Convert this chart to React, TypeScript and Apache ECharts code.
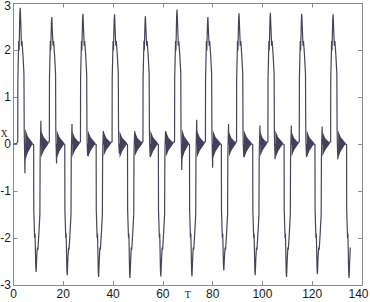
import React, { useEffect, useRef } from "react";
import * as echarts from "echarts";

// x-axis ticks / y-axis ticks
const xTicks = [0, 20, 40, 60, 80, 100, 120, 140];
const yTicks = [-3, -2, -1, 0, 1, 2, 3];

// main trace: [T, x]
const signal: number[][] = [
  [0, 0], [1.2, 0.02],
  [1.7, 0.05], [1.75, 1.4], [2.1, 2.2], [2.25, 2.0], [2.55, 2.81], [2.7, 2.91], [2.95, 2.56], [3.2, 2.1], [3.4, 2.2], [3.8, 1.9], [4.2, 1.5], [4.3, 0.3], [4.4, 0], [4.6, -0.62], [4.7, 0],
  [8.1, 0], [8.15, -1.4], [8.5, -2.0], [8.65, -1.9], [8.95, -2.62], [9.1, -2.72], [9.35, -2.37], [9.6, -2.2], [9.8, -2.25], [10.2, -1.9], [10.6, -1.5], [10.7, -0.3], [10.8, 0], [11.0, 0.5], [11.1, 0],
  [14.4, 0.05], [14.45, 1.4], [14.8, 2.2], [14.95, 2.0], [15.25, 2.61], [15.4, 2.71], [15.65, 2.36], [15.9, 2.1], [16.1, 2.2], [16.5, 1.9], [16.9, 1.5], [17.0, 0.3], [17.1, 0], [17.3, -0.41], [17.4, 0],
  [20.6, 0], [20.65, -1.4], [21.0, -2.0], [21.15, -1.9], [21.45, -2.69], [21.6, -2.79], [21.85, -2.44], [22.1, -2.2], [22.3, -2.25], [22.7, -1.9], [23.1, -1.5], [23.2, -0.3], [23.3, 0], [23.5, 0.43], [23.6, 0],
  [26.9, 0.05], [26.95, 1.4], [27.3, 2.2], [27.45, 2.0], [27.75, 2.68], [27.9, 2.78], [28.15, 2.43], [28.4, 2.1], [28.6, 2.2], [29.0, 1.9], [29.4, 1.5], [29.5, 0.3], [29.6, 0], [29.8, -0.25], [29.9, 0],
  [33.2, 0], [33.25, -1.4], [33.6, -2.0], [33.75, -1.9], [34.05, -2.73], [34.2, -2.83], [34.45, -2.48], [34.7, -2.2], [34.9, -2.25], [35.3, -1.9], [35.7, -1.5], [35.8, -0.3], [35.9, 0], [36.1, 0.28], [36.2, 0],
  [39.6, 0.05], [39.65, 1.4], [40.0, 2.2], [40.15, 2.0], [40.45, 2.67], [40.6, 2.77], [40.85, 2.42], [41.1, 2.1], [41.3, 2.2], [41.7, 1.9], [42.1, 1.5], [42.2, 0.3], [42.3, 0], [42.5, -0.2], [42.6, 0],
  [45.8, 0], [45.85, -1.4], [46.2, -2.0], [46.35, -1.9], [46.65, -2.75], [46.8, -2.85], [47.05, -2.5], [47.3, -2.2], [47.5, -2.25], [47.9, -1.9], [48.3, -1.5], [48.4, -0.3], [48.5, 0], [48.7, 0.28], [48.8, 0],
  [52.0, 0.05], [52.05, 1.4], [52.4, 2.2], [52.55, 2.0], [52.85, 2.63], [53.0, 2.73], [53.25, 2.38], [53.5, 2.1], [53.7, 2.2], [54.1, 1.9], [54.5, 1.5], [54.6, 0.3], [54.7, 0], [54.9, -0.27], [55.0, 0],
  [58.2, 0], [58.25, -1.4], [58.6, -2.0], [58.75, -1.9], [59.05, -2.72], [59.2, -2.82], [59.45, -2.47], [59.7, -2.2], [59.9, -2.25], [60.3, -1.9], [60.7, -1.5], [60.8, -0.3], [60.9, 0], [61.1, 0.28], [61.2, 0],
  [64.7, 0.05], [64.75, 1.4], [65.1, 2.2], [65.25, 2.0], [65.55, 2.77], [65.7, 2.87], [65.95, 2.52], [66.2, 2.1], [66.4, 2.2], [66.8, 1.9], [67.2, 1.5], [67.3, 0.3], [67.4, 0], [67.6, -0.55], [67.7, 0],
  [70.7, 0], [70.75, -1.4], [71.1, -2.0], [71.25, -1.9], [71.55, -2.72], [71.7, -2.82], [71.95, -2.47], [72.2, -2.2], [72.4, -2.25], [72.8, -1.9], [73.2, -1.5], [73.3, -0.3], [73.4, 0], [73.6, 0.52], [73.7, 0],
  [77.1, 0.05], [77.15, 1.4], [77.5, 2.2], [77.65, 2.0], [77.95, 2.61], [78.1, 2.71], [78.35, 2.36], [78.6, 2.1], [78.8, 2.2], [79.2, 1.9], [79.6, 1.5], [79.7, 0.3], [79.8, 0], [80.0, -0.5], [80.1, 0],
  [83.5, 0], [83.55, -1.4], [83.9, -2.0], [84.05, -1.9], [84.35, -2.59], [84.5, -2.69], [84.75, -2.4], [85.0, -2.2], [85.2, -2.25], [85.6, -1.9], [86.0, -1.5], [86.1, -0.3], [86.2, 0], [86.4, 0.43], [86.5, 0],
  [89.6, 0.05], [89.65, 1.4], [90.0, 2.2], [90.15, 2.0], [90.45, 2.69], [90.6, 2.79], [90.85, 2.44], [91.1, 2.1], [91.3, 2.2], [91.7, 1.9], [92.1, 1.5], [92.2, 0.3], [92.3, 0], [92.5, -0.27], [92.6, 0],
  [96.1, 0], [96.15, -1.4], [96.5, -2.0], [96.65, -1.9], [96.95, -2.69], [97.1, -2.79], [97.35, -2.44], [97.6, -2.2], [97.8, -2.25], [98.2, -1.9], [98.6, -1.5], [98.7, -0.3], [98.8, 0], [99.0, 0.4], [99.1, 0],
  [102.2, 0.05], [102.25, 1.4], [102.6, 2.2], [102.75, 2.0], [103.05, 2.7], [103.2, 2.8], [103.45, 2.45], [103.7, 2.1], [103.9, 2.2], [104.3, 1.9], [104.7, 1.5], [104.8, 0.3], [104.9, 0], [105.1, -0.32], [105.2, 0],
  [108.7, 0], [108.75, -1.4], [109.1, -2.0], [109.25, -1.9], [109.55, -2.73], [109.7, -2.83], [109.95, -2.48], [110.2, -2.2], [110.4, -2.25], [110.8, -1.9], [111.2, -1.5], [111.3, -0.3], [111.4, 0], [111.6, 0.4], [111.7, 0],
  [114.8, 0.05], [114.85, 1.4], [115.2, 2.2], [115.35, 2.0], [115.65, 2.68], [115.8, 2.78], [116.05, 2.43], [116.3, 2.1], [116.5, 2.2], [116.9, 1.9], [117.3, 1.5], [117.4, 0.3], [117.5, 0], [117.7, -0.27], [117.8, 0],
  [121.1, 0], [121.15, -1.4], [121.5, -2.0], [121.65, -1.9], [121.95, -2.67], [122.1, -2.77], [122.35, -2.42], [122.6, -2.2], [122.8, -2.25], [123.2, -1.9], [123.6, -1.5], [123.7, -0.3], [123.8, 0], [124.0, 0.38], [124.1, 0],
  [127.4, 0.05], [127.45, 1.4], [127.8, 2.2], [127.95, 2.0], [128.25, 2.67], [128.4, 2.77], [128.65, 2.42], [128.9, 2.1], [129.1, 2.2], [129.5, 1.9], [129.9, 1.5], [130.0, 0.3], [130.1, 0], [130.3, -0.32], [130.4, 0],
  [133.8, 0], [133.85, -1.4], [134.2, -2.0], [134.35, -1.9], [134.65, -2.75], [134.8, -2.85], [135.05, -2.5], [135.3, -2.2],
];

// ringing bursts near zero: [start T, end T, upper envelope, lower envelope]
const bursts: number[][] = [
  [4.7, 7.8, 0.33, -0.35], [11.1, 14.2, 0.3, -0.28],
  [17.4, 20.5, 0.3, -0.3], [23.6, 26.7, 0.28, -0.27],
  [29.9, 33.0, 0.3, -0.28], [36.2, 39.3, 0.27, -0.25],
  [42.6, 45.7, 0.28, -0.3], [48.8, 51.9, 0.26, -0.25],
  [55.0, 58.1, 0.3, -0.3], [61.2, 64.3, 0.28, -0.27],
  [67.7, 70.6, 0.32, -0.33], [73.7, 76.9, 0.3, -0.28],
  [80.1, 83.3, 0.3, -0.3], [86.5, 89.5, 0.27, -0.27],
  [92.6, 95.8, 0.3, -0.3], [99.1, 102.0, 0.27, -0.26],
  [105.2, 108.4, 0.3, -0.3], [111.7, 114.6, 0.27, -0.26],
  [117.8, 120.9, 0.3, -0.28], [124.1, 127.2, 0.27, -0.26],
  [130.4, 133.5, 0.3, -0.3],
];

const AXIS = "#8a8a8a";
const DARK = "#2e2b48";

export default function App() {
  const ref = useRef<HTMLDivElement>(null);
  useEffect(() => {
    document.body.style.margin = "0";
    const chart = echarts.init(ref.current!, null, { renderer: "svg" });
    const label = { color: "#1a1a1a", fontSize: 12, fontFamily: "Liberation Sans, Arial, sans-serif" };
    const nameStyle = { color: "#1a1a1a", fontSize: 10, lineHeight: 10, fontFamily: "Liberation Serif, serif" };
    const yMax = yTicks[yTicks.length - 1];
    const xMax = xTicks[xTicks.length - 1];
    chart.setOption({
      animation: false,
      backgroundColor: "#ffffff",
      grid: { left: 13.5, right: 8, top: 3.5, bottom: 17, containLabel: false, outerBoundsMode: "none" },
      xAxis: [
        {
          type: "value", min: xTicks[0], max: xMax, interval: 20,
          name: "T", nameLocation: "middle", nameGap: 4, nameMoveOverlap: false, nameTextStyle: nameStyle,
          axisLine: { show: true, onZero: false, lineStyle: { color: AXIS, width: 1 } },
          axisTick: { show: true, inside: true, length: 4, lineStyle: { color: AXIS } },
          axisLabel: {
            ...label, margin: 3,
            formatter: (v: number) => (v === xMax ? `{end|${v}}` : `${v}`),
            rich: { end: { ...label, padding: [0, 7, 0, 0] } },
          },
          splitLine: { show: false },
        },
        {
          type: "value", position: "top", min: xTicks[0], max: xMax, interval: 20,
          axisLine: { show: true, onZero: false, lineStyle: { color: AXIS, width: 1 } },
          axisTick: { show: true, inside: true, length: 4, lineStyle: { color: AXIS } },
          axisLabel: { show: false }, splitLine: { show: false },
        },
      ],
      yAxis: [
        {
          type: "value", min: yTicks[0], max: yMax, interval: 1,
          name: "X", nameLocation: "middle", nameGap: 6, nameRotate: 0, nameMoveOverlap: false,
          nameTextStyle: { ...nameStyle, fontSize: 9.5, lineHeight: 20, verticalAlign: "bottom" },
          axisLine: { show: true, onZero: false, lineStyle: { color: AXIS, width: 1 } },
          axisTick: { show: true, inside: true, length: 4, lineStyle: { color: AXIS } },
          axisLabel: {
            ...label, margin: 2.5,
            formatter: (v: number) => (v === yMax ? `{top|${v}}` : `${v}`),
            rich: { top: { ...label, lineHeight: 10, padding: [4, 0, 0, 0] } },
          },
          splitLine: { show: false },
        },
        {
          type: "value", position: "right", min: yTicks[0], max: yMax, interval: 1,
          axisLine: { show: true, onZero: false, lineStyle: { color: AXIS, width: 1 } },
          axisTick: { show: true, inside: true, length: 4, lineStyle: { color: AXIS } },
          axisLabel: { show: false }, splitLine: { show: false },
        },
      ],
      series: [
        {
          type: "custom",
          xAxisIndex: 0, yAxisIndex: 0,
          data: bursts,
          renderItem: (params: any, api: any) => {
            const xs = api.value(0), xe = api.value(1), top = api.value(2), bot = api.value(3);
            const xm = xs + (xe - xs) * 0.35;
            const pts = [
              api.coord([xs, top]),
              api.coord([xm, top * 0.5]),
              api.coord([xe, 0.02]),
              api.coord([xm, bot * 0.5]),
              api.coord([xs, bot]),
            ];
            return { type: "polygon", shape: { points: pts }, style: { fill: DARK, opacity: 0.9 } };
          },
          silent: true,
        },
        {
          type: "line",
          xAxisIndex: 0, yAxisIndex: 0,
          data: signal,
          showSymbol: false, symbol: "none",
          lineStyle: { color: "#46445a", width: 1.2 },
          silent: true,
        },
      ],
    });
    return () => chart.dispose();
  }, []);
  return <div ref={ref} style={{ width: 370, height: 302 }} />;
}
